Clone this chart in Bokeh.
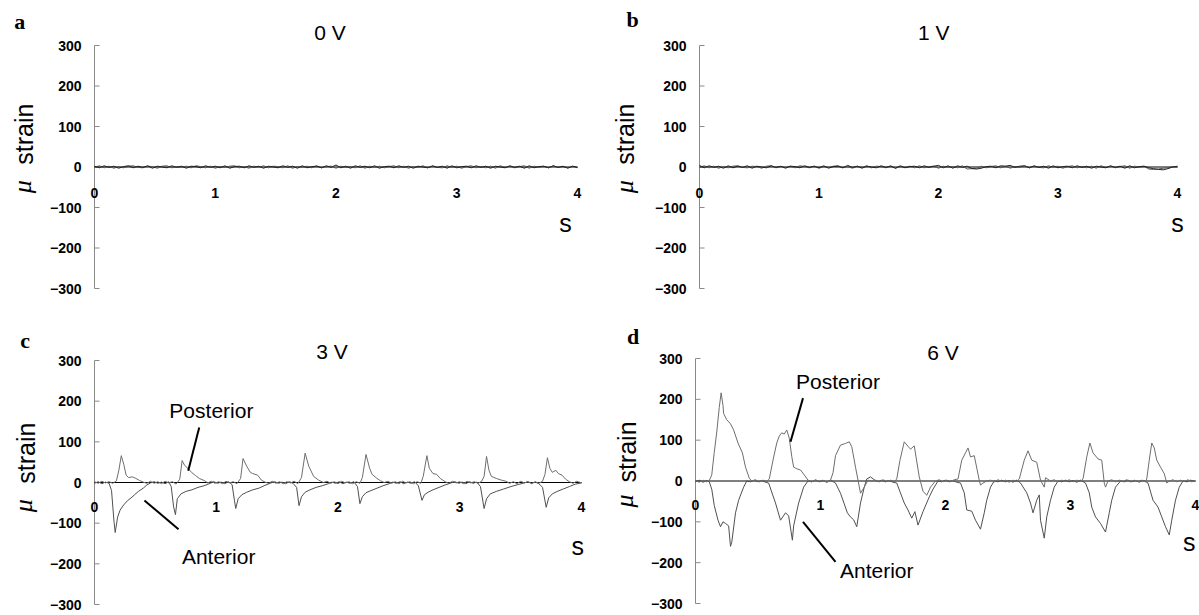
import numpy as np
from bokeh.plotting import figure
from bokeh.models import Range1d
from bokeh.core.properties import value
from bokeh.layouts import column, row
from bokeh.embed import file_html
from bokeh.resources import INLINE

# ---------------- data ----------------
y_ticks = [-300, -200, -100, 0, 100, 200, 300]
y_tick_labels = ["\u2212300", "\u2212200", "\u2212100", "0", "100", "200", "300"]
x_ticks = [0, 1, 2, 3, 4]
x_tick_labels = ["0", "1", "2", "3", "4"]
titles = ["0 V", "1 V", "3 V", "6 V"]
letters = ["a", "b", "c", "d"]

# 0 V (evenly sampled 0..4 s)
a_trace1 = [2, -2, 3, -1, 2, -3, 1, 3, -2, 2, -1, 3, -3, 2, 0, -2, 3, -1, 2, -3, 2, 1, -2, 3, -1,
            2, -2, 3, -3, 1, 2, -2, 3, -1, 2, -3, 2, 0, -2, 3, -1, 2, -3, 3, -2, 1, 2, -2, 3, -1,
            5, -2, 2, -3, 3, -1, 2, -2, 3, -3, 1, 2, -2, 3, -1, 2, -3, 2, 0, -2, 3, -1, 2, -3, 3,
            -2, 1, 2, -2, 3, -1, 2, -3, 2, 0, -2, 3, -1, 2, -3, 3, -2, 1, 2, -2, 3, -1, 2, -3, 2, -1]
a_trace2 = [-1, 3, -2, 2, -3, 1, -2, 2, 3, -1, -2, 2, 1, -3, 2, 3, -2, 1, -1, 2, -2, 3, 1, -2, 2,
            -3, 1, -1, 2, 3, -2, 1, -3, 2, -1, 3, -2, 2, 1, -2, 3, -3, 1, -1, 2, -2, 3, -2, 1, 2,
            -3, 2, -1, 1, -2, 3, -3, 2, -1, 2, -2, 1, 3, -2, 2, -3, 1, -1, 3, -2, 2, -1, -2, 3, -1,
            2, -3, 1, 3, -2, 1, -2, 2, -3, 3, -1, 2, -2, 1, 3, -3, 2, -1, 2, -2, 3, -1, 1, -2, 2, -2]
# 1 V
b_trace1 = [4, -2, 3, -1, 2, -3, 3, -2, 2, -1, 3, -3, 2, 0, -2, 3, -1, 2, -3, 2, 1, -2, 3, -1, 2,
            -2, 3, -3, 1, 2, -2, 4, -1, 2, -3, 2, 0, -2, 3, -1, 2, -3, 3, -2, 1, 2, -2, 3, -1, 2,
            4, -2, 3, -3, 3, -1, 2, -4, -5, -3, 1, 2, -2, 3, 2, 4, -1, 2, 3, -2, 3, -1, 2, -3, 3,
            -2, 1, 2, -2, 3, -1, 2, -3, 2, 0, -2, 3, -1, 2, -3, 3, -2, 1, 2, -2, -4, -6, -7, -4, 0, 2]
b_trace2 = [-1, 3, -2, 2, -3, 1, -2, 2, 3, -1, -2, 2, 1, -3, 2, 3, -2, 1, -1, 2, -2, 3, 1, -2, 2,
            -3, 1, -1, 2, 3, -2, 1, -3, 2, -1, 3, -2, 2, 1, -2, 3, -3, 1, -1, 2, -2, 3, -2, 1, 2,
            -3, 2, -1, 1, -2, 3, -5, -4, -3, 2, -2, 1, 3, -2, 2, -3, 1, -1, 3, -2, 2, -1, -2, 3, -1,
            2, -3, 1, 3, -2, 1, -2, 2, -3, 3, -1, 2, -2, 1, 3, -3, 2, -1, 2, -5, -6, -5, -3, -2, 1, -1]

# 3 V (time s, micro strain)
c_posterior = [
    (0.00, 2), (0.03, -2), (0.06, 3), (0.09, -1), (0.12, 2), (0.15, -2), (0.18, 4), (0.20, 30),
    (0.22, 66), (0.24, 45), (0.26, 18), (0.28, 12), (0.31, 14), (0.34, 10), (0.37, 5), (0.40, 1),
    (0.43, -2), (0.46, 3), (0.49, -2), (0.52, 2), (0.55, -3), (0.58, 3), (0.61, -1), (0.64, 2),
    (0.67, -4), (0.70, 8), (0.72, 54), (0.74, 42), (0.77, 34), (0.80, 24), (0.83, 17), (0.86, 10),
    (0.90, 5), (0.93, -1), (0.96, 3), (0.99, -2), (1.02, 2), (1.05, -3), (1.08, 3), (1.11, -1),
    (1.14, 2), (1.17, -3), (1.20, 10), (1.22, 59), (1.25, 40), (1.28, 25), (1.30, 22), (1.34, 18),
    (1.37, 6), (1.40, 1), (1.43, -2), (1.46, 3), (1.49, -2), (1.52, 2), (1.55, -3), (1.58, 2),
    (1.61, -1), (1.64, 3), (1.67, -3), (1.70, 12), (1.73, 72), (1.76, 40), (1.80, 15), (1.84, 6),
    (1.88, 0), (1.91, 3), (1.94, -2), (1.97, 2), (2.00, -3), (2.03, 3), (2.06, -1), (2.09, 2),
    (2.12, -3), (2.15, 2), (2.18, -2), (2.20, 12), (2.23, 69), (2.26, 35), (2.28, 20), (2.32, 10),
    (2.35, 4), (2.38, 0), (2.41, 3), (2.44, -2), (2.47, 2), (2.50, -3), (2.53, 3), (2.56, -1),
    (2.59, 2), (2.62, -3), (2.65, 2), (2.68, -2), (2.70, 15), (2.73, 66), (2.75, 35), (2.78, 22),
    (2.81, 20), (2.84, 10), (2.88, 2), (2.91, -2), (2.94, 3), (2.97, -1), (3.00, 2), (3.03, -3),
    (3.06, 3), (3.09, -1), (3.12, 2), (3.15, -2), (3.18, 3), (3.20, 15), (3.22, 64), (3.24, 30),
    (3.26, 15), (3.30, 10), (3.34, 6), (3.38, 3), (3.41, -2), (3.44, 2), (3.47, -3), (3.50, 3),
    (3.53, -1), (3.56, 2), (3.59, -3), (3.62, 2), (3.65, -2), (3.68, 3), (3.70, 20), (3.72, 61),
    (3.74, 35), (3.76, 25), (3.79, 30), (3.81, 22), (3.84, 18), (3.87, 8), (3.90, 2), (3.93, -2),
    (3.96, 3), (4.00, -1)]
c_anterior = [
    (0.00, -2), (0.03, 2), (0.06, -3), (0.09, 1), (0.12, -2), (0.14, -20), (0.16, -95), (0.17, -123),
    (0.19, -85), (0.21, -68), (0.24, -55), (0.27, -45), (0.30, -38), (0.33, -30), (0.36, -22),
    (0.40, -14), (0.43, -6), (0.46, -1), (0.49, 2), (0.52, -2), (0.55, 1), (0.58, -3), (0.61, 2),
    (0.63, -10), (0.65, -60), (0.665, -79), (0.68, -40), (0.71, -28), (0.75, -22), (0.80, -18),
    (0.85, -12), (0.90, -8), (0.95, -2), (0.98, 2), (1.01, -2), (1.04, 1), (1.07, -3), (1.10, 2),
    (1.13, -5), (1.15, -45), (1.16, -64), (1.18, -40), (1.21, -30), (1.25, -24), (1.30, -18),
    (1.35, -14), (1.40, -7), (1.45, -1), (1.48, 2), (1.51, -2), (1.54, 1), (1.57, -3), (1.60, 2),
    (1.63, -2), (1.66, -12), (1.68, -57), (1.70, -35), (1.73, -24), (1.77, -18), (1.82, -12),
    (1.87, -8), (1.92, -3), (1.95, 1), (1.98, -2), (2.01, 2), (2.04, -3), (2.07, 1), (2.10, -2),
    (2.13, 2), (2.16, -10), (2.18, -52), (2.20, -35), (2.23, -25), (2.27, -20), (2.32, -14),
    (2.37, -8), (2.42, -3), (2.45, 1), (2.48, -2), (2.51, 2), (2.54, -3), (2.57, 1), (2.60, -2),
    (2.63, 2), (2.66, -8), (2.69, -44), (2.71, -30), (2.74, -24), (2.78, -18), (2.83, -12),
    (2.88, -6), (2.93, -1), (2.96, 2), (2.99, -2), (3.02, 1), (3.05, -3), (3.08, 2), (3.11, -2),
    (3.14, 1), (3.17, -10), (3.20, -64), (3.22, -40), (3.25, -28), (3.30, -22), (3.36, -16),
    (3.42, -10), (3.48, -5), (3.53, -1), (3.56, 2), (3.59, -2), (3.62, 1), (3.65, -3), (3.68, -12),
    (3.71, -61), (3.73, -38), (3.76, -28), (3.80, -22), (3.85, -16), (3.90, -10), (3.95, -4),
    (4.00, -1)]

# 6 V
d_posterior = [
    (0.00, 1), (0.03, -3), (0.06, 2), (0.09, -2), (0.11, 1), (0.13, 15), (0.15, 70), (0.17, 120),
    (0.19, 180), (0.205, 216), (0.22, 185), (0.225, 165), (0.25, 150), (0.28, 140), (0.305, 125),
    (0.34, 93), (0.375, 69), (0.40, 34), (0.43, 7), (0.45, 0), (0.48, 3), (0.51, -2), (0.54, 2),
    (0.57, -1), (0.59, 5), (0.62, 51), (0.65, 93), (0.67, 110), (0.69, 118), (0.71, 115),
    (0.73, 125), (0.75, 105), (0.77, 60), (0.785, 34), (0.81, 30), (0.84, 27), (0.87, 15),
    (0.90, 2), (0.93, -2), (0.96, 3), (0.99, -1), (1.02, 2), (1.05, -3), (1.08, 2), (1.10, 20),
    (1.12, 62), (1.16, 88), (1.20, 92), (1.23, 96), (1.25, 84), (1.28, 34), (1.30, 2), (1.32, -30),
    (1.35, -15), (1.38, 2), (1.41, 0), (1.44, 2), (1.47, -2), (1.50, 3), (1.53, -1), (1.56, 2),
    (1.59, -2), (1.61, 5), (1.635, 50), (1.67, 96), (1.70, 85), (1.72, 78), (1.75, 86), (1.79, 10),
    (1.82, -25), (1.85, -35), (1.88, -15), (1.92, 0), (1.95, 3), (1.98, -2), (2.01, 2), (2.04, -1),
    (2.07, 3), (2.10, 5), (2.13, 51), (2.16, 69), (2.18, 81), (2.20, 59), (2.23, 62), (2.27, 2),
    (2.28, -10), (2.30, -5), (2.33, 0), (2.36, 2), (2.39, -2), (2.42, 3), (2.45, -1), (2.48, 2),
    (2.51, -3), (2.54, 2), (2.57, -1), (2.59, 5), (2.63, 51), (2.66, 74), (2.69, 51), (2.73, 46),
    (2.76, 2), (2.79, -15), (2.80, 8), (2.84, 0), (2.87, 3), (2.90, -2), (2.93, 2), (2.96, -1),
    (2.99, 3), (3.02, -2), (3.05, 2), (3.08, -1), (3.10, 5), (3.13, 59), (3.155, 93), (3.18, 69),
    (3.22, 54), (3.25, 51), (3.27, -5), (3.28, -15), (3.30, 0), (3.33, 3), (3.36, -2), (3.39, 2),
    (3.42, -1), (3.45, 3), (3.48, -2), (3.51, 2), (3.54, -1), (3.57, 2), (3.60, -2), (3.61, 5),
    (3.63, 51), (3.65, 93), (3.67, 81), (3.69, 51), (3.72, 34), (3.75, 18), (3.77, -5), (3.79, 0),
    (3.82, 3), (3.85, -2), (3.88, 2), (3.91, -1), (3.94, 3), (3.97, -2), (4.00, 1)]
d_anterior = [
    (0.00, -2), (0.03, 2), (0.06, -3), (0.09, 1), (0.11, -2), (0.13, -20), (0.15, -60), (0.18, -96),
    (0.20, -112), (0.22, -100), (0.24, -104), (0.265, -110), (0.28, -160), (0.29, -150), (0.32, -78),
    (0.345, -47), (0.385, -15), (0.41, 0), (0.44, -2), (0.47, 2), (0.50, -2), (0.53, 1), (0.56, -3),
    (0.585, -5), (0.64, -54), (0.68, -96), (0.72, -78), (0.745, -85), (0.775, -145), (0.785, -110),
    (0.825, -54), (0.865, -15), (0.90, 0), (0.93, -2), (0.96, 2), (0.99, -2), (1.02, 1), (1.05, -3),
    (1.08, 2), (1.12, -5), (1.16, -30), (1.215, -78), (1.24, -88), (1.265, -95), (1.29, -112),
    (1.32, -54), (1.35, -15), (1.37, 5), (1.40, 10), (1.43, 3), (1.46, -2), (1.49, 2), (1.52, -2),
    (1.55, 1), (1.58, -3), (1.61, -5), (1.67, -54), (1.70, -71), (1.73, -91), (1.755, -75),
    (1.78, -108), (1.82, -75), (1.87, -39), (1.90, -20), (1.94, 0), (1.97, -2), (2.00, 2),
    (2.03, -2), (2.06, 1), (2.09, -3), (2.12, -5), (2.15, -29), (2.17, -71), (2.21, -74),
    (2.24, -96), (2.28, -118), (2.31, -78), (2.33, -47), (2.36, -15), (2.39, 0), (2.42, -2),
    (2.45, 2), (2.48, -2), (2.51, 1), (2.54, -3), (2.57, 2), (2.60, -5), (2.65, -29), (2.68, -54),
    (2.70, -78), (2.73, -47), (2.75, -34), (2.76, -96), (2.79, -140), (2.81, -88), (2.84, -47),
    (2.87, -15), (2.90, 0), (2.93, -2), (2.96, 2), (2.99, -2), (3.02, 1), (3.05, -3), (3.08, 2),
    (3.12, -5), (3.15, -29), (3.17, -64), (3.20, -88), (3.24, -104), (3.28, -125), (3.31, -78),
    (3.33, -47), (3.36, -15), (3.40, 0), (3.43, -2), (3.46, 2), (3.49, -2), (3.52, 1), (3.55, -3),
    (3.58, 2), (3.62, -5), (3.66, -47), (3.70, -64), (3.73, -88), (3.76, -112), (3.79, -132),
    (3.81, -96), (3.84, -47), (3.87, -15), (3.90, 0), (3.93, -2), (3.96, 2), (4.00, -1)]

# annotation text positions (time s, micro strain)
c_post_label = (0.96, 177)
c_post_leader = ([0.86], [135], [0.77], [29])
c_ant_label = (1.02, -182)
c_ant_leader = ([0.41], [-44], [0.69], [-115])
d_post_label = (1.14, 243)
d_post_leader = ([0.86], [203], [0.76], [96])
d_ant_label = (1.45, -218)
d_ant_leader = ([0.86], [-100], [1.12], [-198])

SANS = "Liberation Sans"
SERIF = "Liberation Serif"


def txt(p, x, y, s, size, font=SANS, style="normal", align="center", angle=0.0):
    p.text(x=[x], y=[y], text=[s], text_align=align, text_baseline="middle",
           text_font=value(font), text_font_style=style, text_font_size=value(size),
           text_color="black", angle=angle)


def make_panel(fig_w, fig_h, axis_px, px_per_s, y_top_px, y_bot_px, title, title_pos,
               letter, letter_pos, strain_pos, mu_pos, s_pos, xlab_y):
    # geometry -> ranges (frame covers whole figure)
    x0 = -axis_px / px_per_s
    x1 = (fig_w - axis_px) / px_per_s
    ppu = (y_bot_px - y_top_px) / (y_ticks[-1] - y_ticks[0])
    y1 = y_ticks[-1] + y_top_px / ppu
    y0 = y_ticks[0] - (fig_h - y_bot_px) / ppu
    p = figure(width=fig_w, height=fig_h, min_border=0,
               x_range=Range1d(x0, x1), y_range=Range1d(y0, y1),
               x_axis_location=None, y_axis_location=None,
               toolbar_location=None, output_backend="svg",
               background_fill_color="white", border_fill_color="white")
    p.outline_line_color = None
    p.grid.visible = False

    # y axis drawn at t = 0
    p.segment(x0=[x_ticks[0]], y0=[y_ticks[0]], x1=[x_ticks[0]], y1=[y_ticks[-1]],
              line_color="#8a8a8a", line_width=1)
    p.ray(x=[x_ticks[0]] * len(y_ticks), y=y_ticks, length=5, length_units="screen",
          angle=0, line_color="#8a8a8a", line_width=1)
    p.text(x=[x_ticks[0]] * len(y_ticks), y=y_ticks, text=y_tick_labels, x_offset=-13,
           text_align="right", text_baseline="middle", text_font=value(SANS),
           text_font_style="bold", text_font_size=value("14px"), text_color="black")
    # x axis line through zero
    p.segment(x0=[x_ticks[0]], y0=[0], x1=[x_ticks[-1]], y1=[0], line_color="black", line_width=1)
    p.text(x=x_ticks, y=[xlab_y] * len(x_ticks), text=x_tick_labels, text_align="center",
           text_baseline="middle", text_font=value(SANS), text_font_style="bold",
           text_font_size=value("14px"), text_color="black")

    txt(p, title_pos[0], title_pos[1], title, "21px")
    txt(p, letter_pos[0], letter_pos[1], letter, "22px", font=SERIF, style="bold")
    txt(p, strain_pos[0], strain_pos[1], "strain", "25px", angle=np.pi / 2)
    txt(p, mu_pos[0], mu_pos[1], "\u03bc", "26px", font=SERIF, style="italic", angle=np.pi / 2)
    txt(p, s_pos[0], s_pos[1], "s", "25px")
    return p


pa = make_panel(600, 310, 94, 120.75, 45, 288, titles[0], (1.95, 331), letters[0],
                (-0.62, 360), (-0.58, 81), (-0.60, -49), (3.90, -138), -63)
pb = make_panel(599, 310, 99, 119.5, 45, 288, titles[1], (1.96, 331), letters[1],
                (-0.56, 365), (-0.62, 81), (-0.63, -49), (4.0, -138), -65)
pc = make_panel(600, 305, 94, 121.75, 50, 294, titles[2], (1.95, 322), letters[2],
                (-0.57, 349), (-0.56, 72), (-0.58, -57), (3.97, -155), -61)
pd = make_panel(599, 305, 95, 125.0, 48, 293, titles[3], (1.98, 314), letters[3],
                (-0.50, 355), (-0.55, 71), (-0.57, -49), (3.95, -150), -59)

for p, tr1, tr2 in ((pa, a_trace1, a_trace2), (pb, b_trace1, b_trace2)):
    t1 = np.linspace(0, 4, len(tr1))
    t2 = np.linspace(0, 4, len(tr2))
    p.line(t2, tr2, line_color="#555555", line_width=1)
    p.line(t1, tr1, line_color="#222222", line_width=1)

for p, post, ant in ((pc, c_posterior, c_anterior), (pd, d_posterior, d_anterior)):
    pt, pv = zip(*post)
    at, av = zip(*ant)
    p.line(list(at), list(av), line_color="#505050", line_width=1)
    p.line(list(pt), list(pv), line_color="#6e6e6e", line_width=1)

for p, pl, pld, al, ald in ((pc, c_post_label, c_post_leader, c_ant_label, c_ant_leader),
                            (pd, d_post_label, d_post_leader, d_ant_label, d_ant_leader)):
    txt(p, pl[0], pl[1], "Posterior", "21px")
    txt(p, al[0], al[1], "Anterior", "21px")
    p.segment(x0=pld[0], y0=pld[1], x1=pld[2], y1=pld[3], line_color="black", line_width=2)
    p.segment(x0=ald[0], y0=ald[1], x1=ald[2], y1=ald[3], line_color="black", line_width=2)

layout = column(row(pa, pb), row(pc, pd))
open("out.html", "w").write(file_html(layout, INLINE))
